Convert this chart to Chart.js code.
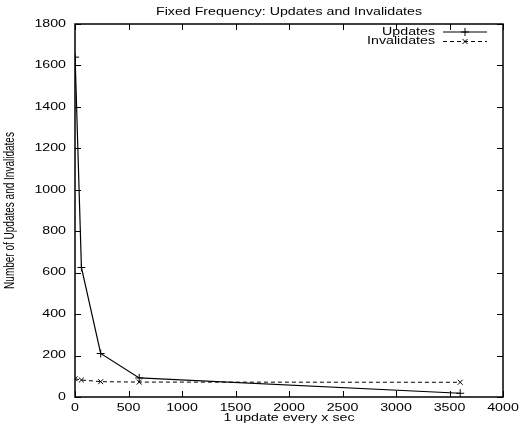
<!DOCTYPE html>
<html>
<head>
<meta charset="utf-8">
<script src="https://cdn.jsdelivr.net/npm/chart.js@4.4.1/dist/chart.umd.min.js"></script>
<style>
  body { margin: 0; background: #fff; }
</style>
</head>
<body>
<canvas id="freqChart" width="519" height="425"></canvas>
<script>
// seconds between updates
const intervals = [1, 60, 240, 600, 3600];
const updates = [1640, 625, 210, 92, 18];
const invalidates = [88, 82, 74, 72, 71];
const xTicks = [0, 500, 1000, 1500, 2000, 2500, 3000, 3500, 4000];
const yTicks = [0, 200, 400, 600, 800, 1000, 1200, 1400, 1600, 1800];

const FONT = "10px 'Liberation Sans', Arial, sans-serif";
const STRETCH = 1.42; // text is drawn wide, like the old postscript output

function toPoints(xs, ys) {
  return xs.map((x, i) => ({ x: x, y: ys[i] }));
}

function wideText(ctx, str, x, y, align, rotate) {
  ctx.save();
  ctx.translate(x, y);
  ctx.scale(STRETCH, 1);
  if (rotate) ctx.rotate(-Math.PI / 2);
  ctx.textAlign = align;
  ctx.textBaseline = 'middle';
  ctx.fillText(str, 0, 0);
  ctx.restore();
}

// frame, inward ticks on all sides, labels, titles and key
const framePlugin = {
  id: 'frame',
  afterDatasetsDraw(chart) {
    const ctx = chart.ctx;
    const a = chart.chartArea;
    const xs = chart.scales.x, ys = chart.scales.y;
    const len = 6;
    ctx.save();
    ctx.strokeStyle = '#000';
    ctx.fillStyle = '#000';
    ctx.font = FONT;
    ctx.lineWidth = 1;
    ctx.beginPath();
    xTicks.forEach(v => {
      const px = Math.round(xs.getPixelForValue(v)) + 0.5;
      ctx.moveTo(px, a.bottom); ctx.lineTo(px, a.bottom - len);
      ctx.moveTo(px, a.top); ctx.lineTo(px, a.top + len);
    });
    yTicks.forEach(v => {
      const py = Math.round(ys.getPixelForValue(v)) + 0.5;
      ctx.moveTo(a.left, py); ctx.lineTo(a.left + len, py);
      ctx.moveTo(a.right, py); ctx.lineTo(a.right - len, py);
    });
    ctx.stroke();
    ctx.lineWidth = 1.5;
    ctx.strokeRect(a.left, a.top, a.right - a.left, a.bottom - a.top);

    xTicks.forEach(v => wideText(ctx, String(v), xs.getPixelForValue(v), a.bottom + 11, 'center'));
    yTicks.forEach(v => wideText(ctx, String(v), a.left - 9, ys.getPixelForValue(v), 'right'));

    const midX = (a.left + a.right) / 2;
    wideText(ctx, 'Fixed Frequency: Updates and Invalidates', midX, 12, 'center');
    wideText(ctx, '1 update every x sec', midX, 418, 'center');
    wideText(ctx, 'Number of Updates and Invalidates', 10, (a.top + a.bottom) / 2, 'center', true);

    // key
    const textRight = a.right - 68;
    const lineL = a.right - 60, lineR = a.right - 16;
    chart.data.datasets.forEach((ds, i) => {
      const y = a.top + 8 + i * 9.5;
      wideText(ctx, ds.label, textRight, y, 'right');
      ctx.lineWidth = 1;
      ctx.setLineDash(ds.borderDash || []);
      ctx.beginPath();
      ctx.moveTo(lineL, y); ctx.lineTo(lineR, y);
      ctx.stroke();
      ctx.setLineDash([]);
      Chart.helpers.drawPoint(ctx, {
        pointStyle: ds.pointStyle, radius: ds.pointRadius, borderWidth: 1
      }, (lineL + lineR) / 2, y);
    });
    ctx.restore();
  }
};

new Chart(document.getElementById('freqChart'), {
  type: 'scatter',
  data: {
    datasets: [
      {
        label: 'Updates',
        data: toPoints(intervals, updates),
        showLine: true,
        borderColor: '#000',
        backgroundColor: '#000',
        borderWidth: 1.2,
        pointStyle: 'cross',
        pointRadius: 4,
        pointBorderWidth: 1
      },
      {
        label: 'Invalidates',
        data: toPoints(intervals, invalidates),
        showLine: true,
        borderColor: '#000',
        backgroundColor: '#000',
        borderWidth: 1,
        borderDash: [4, 3],
        pointStyle: 'crossRot',
        pointRadius: 3.5,
        pointBorderWidth: 1
      }
    ]
  },
  options: {
    responsive: false,
    animation: false,
    layout: { padding: { left: 75, right: 16, top: 24, bottom: 28 } },
    plugins: {
      legend: { display: false },
      tooltip: { enabled: false },
      title: { display: false }
    },
    scales: {
      x: {
        type: 'linear',
        min: 0,
        max: 4000,
        ticks: { display: false },
        grid: { display: false, drawTicks: false },
        border: { display: false }
      },
      y: {
        type: 'linear',
        min: 0,
        max: 1800,
        ticks: { display: false },
        grid: { display: false, drawTicks: false },
        border: { display: false }
      }
    }
  },
  plugins: [framePlugin]
});
</script>
</body>
</html>
